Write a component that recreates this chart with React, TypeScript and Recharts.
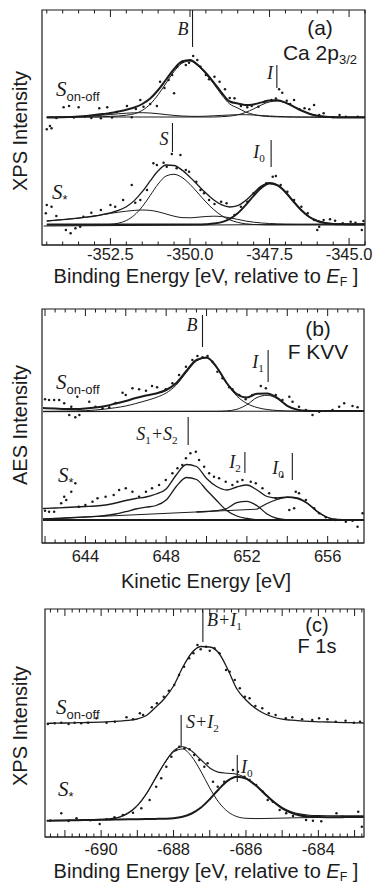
import React from 'react';
import { ComposedChart, Line, Scatter, XAxis, YAxis, ReferenceLine, ReferenceArea } from 'recharts';

// ---------------- Panel (a): Ca 2p3/2 XPS ----------------
const aE = [-354.5,-354.25,-354,-353.75,-353.5,-353.25,-353,-352.75,-352.5,-352.25,-352,-351.75,-351.5,-351.25,-351,-350.75,-350.5,-350.25,-350,-349.75,-349.5,-349.25,-349,-348.75,-348.5,-348.25,-348,-347.75,-347.5,-347.25,-347,-346.75,-346.5,-346.25,-346,-345.75,-345.5,-345.25,-345,-344.75,-344.5];
const aTopTotal = [127.5,127.5,127.8,128.1,128.5,129.1,129.9,130.9,132,133.5,135.2,137.5,141,146.5,155,165.5,176,183.5,185,180,172,162.5,152,143.5,141.5,139.9,140.6,142.6,144.5,144.7,142.4,138.5,134.5,131.3,129.2,128.2,127.7,127.5,127.5,127.5,127.5];
const aTopB = [128,128,128,128,128,128,128.1,128.3,128.6,129,129.8,131.2,134.6,140.9,150.3,162,173.5,181.8,184,179.1,171,161,150,141,137,133,130.5,129,128.4,128.1,128,128,128,128,128,128,128,128,128,128,128];
const aTopI = [128,128,128,128,128,128,128,128,128,128,128,128,128,128,128,128,128,128,128,128,128,128,128.3,128.9,130.2,132.6,136.1,140.1,143.1,144,142.1,138.5,134.6,131.5,129.5,128.6,128.2,128,128,128,128];
const aTopBase = [127.5,127.5,127.8,128,128.3,128.7,129.2,129.8,130.5,131.2,131.8,132.2,132.3,132,131.3,130.4,129.6,129,128.7,128.6,128.8,129.2,129.6,130,130.3,130.3,130,129.5,129,128.6,128.3,128,127.9,127.8,127.7,127.6,127.5,127.5,127.5,127.5,127.5];
const aBotTotal = [24,24.7,25.4,26.1,26.9,27.9,29,30.5,32.2,34.6,38.3,44.4,53.3,64.1,74.2,80,79.5,74.9,67.9,59.8,51.9,45,40.1,38,39.4,44.5,52,59.1,62.4,60.3,53.3,43.9,35,28.3,24.3,22.2,21.3,21,20.8,20.8,20.8];
const aBotS = [20,20,20,20,20,20,20,20.2,20.6,21.8,24.5,29.8,38.3,49.5,61,69,70.7,67.5,60.7,52,43.1,35.3,29.3,25.2,22.6,21.2,20.5,20.2,20,20,20,20,20,20,20,20,20,20,20,20,20];
const aBotI0 = [20.5,20.5,20.5,20.5,20.5,20.5,20.5,20.5,20.5,20.5,20.5,20.5,20.5,20.5,20.5,20.5,20.5,20.5,20.5,20.5,20.8,21.4,22.9,26.1,31.7,39.8,49.2,57.4,61.4,59.6,52.8,43.5,34.7,28,24,21.9,21,20.7,20.5,20.5,20.5];
const aBotBump = [24,24.7,25.4,26.1,26.9,27.9,29,30.3,31.6,32.8,33.8,34.6,35,34.6,33.2,31,28.8,27.4,27.2,27.8,28.5,28.8,28.4,27.2,25.6,24,22.8,22,21.5,21.2,21,20.9,20.8,20.8,20.8,20.8,20.8,20.8,20.8,20.8,20.8];
const aBotFlat = [[-354.6,19],[-344.5,21]];
const aTopDots = [[-354.5,115.7],[-354.4,119],[-354.35,116.7],[-354.2,127],[-353.97,137.7],[-353.8,139],[-353.65,127.5],[-353.5,137.7],[-353.3,128.5],[-353.1,127],[-352.85,136.7],[-352.8,126.7],[-352.6,137.7],[-352.45,127.5],[-352.3,133],[-351.98,139],[-351.83,127.7],[-351.7,136],[-351.56,145],[-351.46,138.3],[-351.25,141],[-351.04,139],[-350.94,163.3],[-350.8,157],[-350.67,165],[-350.56,170],[-350.5,151.7],[-350.4,178.3],[-350.24,183.3],[-350.13,180],[-350.03,182.3],[-349.9,189],[-349.77,185],[-349.67,178.3],[-349.5,170],[-349.4,165.7],[-349.23,168.3],[-349.07,163.3],[-348.9,155.7],[-348.75,147],[-348.6,146.7],[-348.4,139],[-348.2,137.7],[-348.06,139],[-347.85,138.3],[-347.65,143.3],[-347.44,145],[-347.3,146.5],[-347.2,155.7],[-347.1,152.3],[-346.96,144.3],[-346.85,141],[-346.73,145],[-346.56,135.7],[-346.4,136.7],[-346.25,135.7],[-346.1,140],[-345.94,130],[-345.8,131.7],[-345.5,127.7],[-345.3,130],[-345.1,128.3],[-344.73,128.3]];
const aBotDots = [[-354.53,31.7],[-354.5,40],[-354.35,38.3],[-354.2,29],[-353.9,15],[-353.75,11.7],[-353.6,16.7],[-353.45,18.3],[-353.35,28.3],[-353.1,32.3],[-352.8,35],[-352.5,40],[-352.35,38.3],[-352.1,45],[-351.83,60],[-351.72,42.3],[-351.56,45],[-351.35,55],[-351.15,81.7],[-351.04,80],[-350.83,82.3],[-350.73,78.3],[-350.57,91],[-350.42,76.7],[-350.3,90],[-350.13,75],[-350.03,73.3],[-349.8,63.3],[-349.67,55],[-349.56,51.7],[-349.4,45],[-349.23,41],[-349.02,43.3],[-348.85,41.7],[-348.6,30],[-348.4,38.3],[-348.2,43.3],[-348,51.7],[-347.8,56.7],[-347.6,61.7],[-347.4,68.3],[-347.3,69],[-347.15,60],[-346.94,53.3],[-346.73,45],[-346.5,38.3],[-346.3,31.7],[-346.1,25],[-346,15],[-345.94,18.3],[-345.8,25],[-345.6,25.7],[-345.44,24.3],[-345.2,21.7],[-344.95,23.3],[-344.8,22.3],[-344.6,15],[-344.55,24]];
const aTicks = [-354.5,-354,-353.5,-353,-352.5,-352,-351.5,-351,-350.5,-350,-349.5,-349,-348.5,-348,-347.5,-347,-346.5,-346,-345.5,-345,-344.5];
const aLabelTicks = [-352.5,-350,-347.5,-345];
// marker lines: [energy, yFrom, yTo]
const aMarkers = [[-349.92,198,235],[-347.27,157,180],[-350.55,93,122],[-347.45,78,105]];

// ---------------- Panel (b): F KVV AES ----------------
const bE = [641.9,642.5,643,643.5,644,644.5,645,645.5,646,646.5,647,647.5,648,648.5,649,649.5,650,650.5,651,651.5,652,652.5,653,653.5,654,654.5,655,655.5,656,656.5,657,657.5,657.8];
const bTopTotal = [135,134.5,134,134,134.5,135.5,137,139.5,142,145,147.5,149.5,153,160,172,183,185.5,176,160,149,145.4,149.3,149.5,145.2,137.2,133.4,132.2,132,132,132,132,132,132];
const bTopB = [131.5,131.6,131.8,132,132.3,133,134,135.3,137,139.5,142.3,145.5,150,158,170.5,182,185,175,159.5,147,139.5,135.5,133.5,132.5,132,131.8,131.7,131.7,131.7,131.7,131.7,131.7,131.7];
const bTopI1 = [131.7,131.7,131.7,131.7,131.7,131.7,131.7,131.7,131.7,131.7,131.7,131.7,131.7,131.7,131.7,131.7,131.7,131.7,132.1,133.7,138.3,145.5,147.7,144.4,136.9,133.1,131.9,131.7,131.7,131.7,131.7,131.7,131.7];
const bTopBase = [[641.9,131.3],[657.8,132]];
const bBotTotal = [34.5,35,35.5,36,36.5,37,38,40,42.5,44.5,46,49,54,68,78.5,76.5,64.5,56.5,53,56,58,53,46.5,45,46,45,39.7,31.5,25.5,23.5,23,23,23];
const bBotS = [24,24.5,25,25.5,26,26.6,27.5,29,31.3,34,35.8,37.5,43,56.5,65.5,63.5,53,42.5,32.5,27,24.5,23.3,23,23,23,23,23,23,23,23,23,23,23];
const bBotI2 = [null,null,null,null,null,null,null,null,null,null,null,null,null,null,null,31,31.5,32.3,34.5,40.3,41.6,37.3,29,24.5,23.2,23,null,null,null,null,null,null,null];
const bBotI0 = [null,null,null,null,null,null,null,null,null,null,null,null,null,null,null,null,null,null,null,null,null,33.8,39.5,43.5,45.6,44.3,39.5,31,25.5,23.3,23,23,23];
const bBotSlope = [[641.9,24],[652.5,33.8]];
const bBotFlat = [[641.9,23],[657.8,23]];
const bTopDots = [[642,143.7],[642.2,143],[642.45,143],[642.7,143],[642.95,139.7],[643.3,136.3],[643.2,128],[643.5,125.7],[643.7,128],[643.6,146.3],[644.19,141.3],[644.5,136.3],[644.85,134.7],[645.18,135.7],[645.5,140],[645.84,150.3],[646,148],[646.33,154.7],[646.66,153.7],[647,152.3],[647.3,157],[647.55,155.7],[647.98,153.7],[648.31,159.7],[648.64,168],[648.98,176.3],[649.3,183],[649.55,187],[649.8,185.7],[650.05,187],[650.29,181.3],[650.54,171.3],[650.79,164.7],[651.12,155.7],[651.28,153.7],[651.61,148],[651.94,143.7],[652.27,148],[652.69,157],[652.94,154.7],[653.43,148],[653.76,143],[654.1,146.3],[654.26,141.3],[654.58,136.3],[654.92,133],[655.25,128],[655.58,131.3],[656.24,133],[656.57,136.3],[656.82,139.7],[657.23,137],[657.48,135.7]];
const bBotDots = [[642,32.3],[642.2,31.3],[642.45,31.3],[642.8,39.7],[642.95,46.3],[643.05,43],[643.3,51.3],[643.5,59.7],[643.67,36.3],[644,38],[644.35,41.3],[644.6,44.7],[645,46.3],[645.4,48],[645.67,53],[646,54.7],[646.33,51.3],[646.66,46.3],[647,51.3],[647.3,54.7],[647.65,58],[647.98,63],[648.31,69.7],[648.56,74.7],[648.8,78],[648.98,84.7],[649.2,89.7],[649.47,91.3],[649.63,83],[649.88,76.3],[650.13,69.7],[650.37,66.3],[650.62,64.7],[650.95,61.3],[651.28,58],[651.53,61.3],[651.78,63],[652.19,61.3],[652.44,59.7],[652.77,54.7],[653.1,49.7],[653.43,44.7],[653.76,66.3],[654.1,33],[654.34,34.7],[654.42,51.3],[654.58,49.7],[654.92,43],[655.33,34.7],[655.58,29.7],[655.91,25.7],[656.4,23],[656.9,21.3],[657.23,22.3],[657.48,16.3],[657.73,29.7]];
const bTicks = [642,642.5,643,643.5,644,644.5,645,645.5,646,646.5,647,647.5,648,648.5,649,649.5,650,650.5,651,651.5,652,652.5,653,653.5,654,654.5,655,655.5,656,656.5,657,657.5];
const bMajorTicks = [642,644,646,648,650,652,654,656];
const bLabelTicks = [644,648,652,656];
const bMarkers = [[649.8,196,228],[653.05,161,193],[649.09,98,126],[651.9,70,91],[654.25,63,90]];

// ---------------- Panel (c): F 1s XPS ----------------
const cE = [-691.5,-691.25,-691,-690.75,-690.5,-690.25,-690,-689.75,-689.5,-689.25,-689,-688.75,-688.5,-688.25,-688,-687.75,-687.5,-687.25,-687,-686.75,-686.5,-686.25,-686,-685.75,-685.5,-685.25,-685,-684.75,-684.5,-684.25,-684,-683.75,-683.5,-683.25,-683,-682.75];
const cTop = [113.7,113.8,114,114.2,114.4,114.6,114.9,115.3,115.9,116.7,118,121.5,129.5,138.5,151,169.5,184,190.5,190,184,167.5,148,137,129,123.5,120,117.8,116.8,116.1,115.6,115.2,115,114.7,114.4,114.2,114];
const cBotTotal = [16.3,16.4,16.6,16.8,17,17.3,17.6,18.3,20.1,24.2,31.6,43.5,59,74,86,90.3,86,77.5,69,64.6,63.7,62.7,59.1,52.6,44.3,36.1,29.6,25.3,22.9,21.8,21.4,21.2,21.1,21.1,21.2,21.3];
const cBotS = [16.3,16.4,16.5,16.6,16.7,16.9,17.2,17.9,19.6,23.6,31,42.8,58.2,73.5,85,88,80.5,66,49,34.7,25.3,20.4,18.7,18.4,18.5,18.7,18.9,19.1,19.3,19.4,19.5,19.6,19.7,19.8,19.9,20];
const cBotI0 = [16.3,16.45,16.6,16.75,16.9,17.05,17.2,17.35,17.5,17.65,17.8,17.95,18.1,18.3,18.8,20.3,23.5,29.2,37.8,47.8,56.4,60.3,58.4,52.2,43.8,35.4,28.7,24.2,21.6,20.4,19.9,19.8,19.8,19.9,20,20];
const cTopDots = [[-691.47,113],[-691.28,113.7],[-691.1,114.3],[-690.9,113],[-690.73,114.3],[-690.55,113.7],[-690.36,114.3],[-690.13,118.7],[-689.85,114.3],[-689.62,115.3],[-689.3,119.7],[-689.12,117.7],[-688.93,123.7],[-688.84,122],[-688.6,129.7],[-688.46,133.7],[-688.27,140.3],[-688.13,146.3],[-687.98,152],[-687.85,162],[-687.71,170.3],[-687.57,178.7],[-687.45,183.7],[-687.34,192],[-687.25,187.7],[-687.1,190.3],[-687,186.3],[-686.87,188.7],[-686.73,183.7],[-686.55,167],[-686.45,165.3],[-686.31,157],[-686.17,148.7],[-686.03,140.3],[-685.9,138.7],[-685.74,131],[-685.55,128.7],[-685.37,123.7],[-685.18,122],[-684.9,118.7],[-684.72,119.7],[-684.45,117.7],[-684.17,117],[-683.98,118.7],[-683.75,117.7],[-683.52,115.3],[-683.25,116.3],[-683.02,114.3],[-682.85,115.3]];
const cBotDots = [[-691.4,16.5],[-691.1,23.7],[-690.9,16],[-690.68,18.7],[-690.3,16.8],[-690.04,13],[-689.85,17.8],[-689.63,19.7],[-689.4,22],[-689.12,24.3],[-688.89,28.7],[-688.66,37],[-688.48,50.3],[-688.34,58.7],[-688.2,70.3],[-688.06,80.3],[-687.93,87],[-687.84,90.3],[-687.7,88.7],[-687.56,87.7],[-687.43,82],[-687.29,77],[-687.15,70.3],[-687.06,73.7],[-686.91,55.3],[-686.78,50.3],[-686.6,55.3],[-686.36,67],[-686.22,65.3],[-686.04,60.3],[-685.9,57],[-685.72,52],[-685.53,45.3],[-685.4,37],[-685.26,35.3],[-685.07,27],[-684.89,23.7],[-684.7,21],[-684.52,22],[-684.34,17],[-684.15,16.3],[-683.92,15.7],[-683.5,23.7],[-683.33,20.3],[-682.9,25.3],[-682.8,10.3]];
const cTicks = [-691.4,-691.2,-691,-690.8,-690.6,-690.4,-690.2,-690,-689.8,-689.6,-689.4,-689.2,-689,-688.8,-688.6,-688.4,-688.2,-688,-687.8,-687.6,-687.4,-687.2,-687,-686.8,-686.6,-686.4,-686.2,-686,-685.8,-685.6,-685.4,-685.2,-685,-684.8,-684.6,-684.4,-684.2,-684,-683.8,-683.6,-683.4,-683.2,-683,-682.8];
const cMajorTicks = [-691,-690,-689,-688,-687,-686,-685,-684,-683];
const cLabelTicks = [-690,-688,-686,-684];
const cMarkers = [[-687.19,195,227],[-687.79,90,122],[-686.24,55,82]];

// ---------------- rendering ----------------
const INK = '#1b1b1b';
const SANS = '"Liberation Sans", Arial, Helvetica, sans-serif';
const SERIF = '"Liberation Serif", "Times New Roman", serif';
const AXIS_H = 5;

type Row = { E: number; v: number | null };
const rows = (E: number[], v: (number | null)[]): Row[] => E.map((e, i) => ({ E: e, v: v[i] }));
const pairs = (p: number[][]): Row[] => p.map(([e, v]) => ({ E: e, v }));
const has = (list: number[], v: number) => list.some((m) => Math.abs(m - v) < 1e-6);

function makeTick(o: { major: number[]; labels: number[]; plotH: number; majorLen: number; minorLen: number; dy: number; fmt: (v: number) => string }) {
  return function Tick(props: any) {
    const { x, y, payload } = props;
    const val = payload.value as number;
    const len = has(o.major, val) ? o.majorLen : o.minorLen;
    return (
      <g>
        <line x1={x} x2={x} y1={y} y2={y - len} stroke={INK} strokeWidth={1} />
        <line x1={x} x2={x} y1={y - o.plotH} y2={y - o.plotH + len} stroke={INK} strokeWidth={1} />
        {has(o.labels, val) && (
          <text x={x} y={y + o.dy} textAnchor="middle" fontFamily={SANS} fontSize={16.5} fill={INK}>
            {o.fmt(val)}
          </text>
        )}
      </g>
    );
  };
}

const renderDot = (p: any) => <circle cx={p.cx} cy={p.cy} r={1.25} fill={INK} />;

type LineSpec = { data: Row[]; w: number };
type PanelProps = {
  top: number; height: number; margin: { top: number; right: number; bottom: number; left: number };
  domain: [number, number]; yMax: number; ticks: number[]; major: number[]; labels: number[];
  fmt: (v: number) => string; lines: LineSpec[]; dots: Row[][]; markers: number[][]; dy: number;
};

function Panel(p: PanelProps) {
  const plotH = p.height - p.margin.top - p.margin.bottom - AXIS_H;
  const tick = makeTick({ major: p.major, labels: p.labels, plotH, majorLen: 7, minorLen: 3.5, dy: p.dy, fmt: p.fmt });
  return (
    <div style={{ position: 'absolute', left: 0, top: p.top }}>
      <ComposedChart width={375} height={p.height} margin={p.margin}>
        <XAxis dataKey="E" type="number" domain={p.domain} allowDataOverflow ticks={p.ticks} interval={0}
          tick={tick} tickLine={false} tickSize={0} tickMargin={0} height={AXIS_H}
          axisLine={{ stroke: INK, strokeWidth: 1.2 }} />
        <YAxis type="number" domain={[0, p.yMax]} allowDataOverflow hide />
        <ReferenceArea x1={p.domain[0]} x2={p.domain[1]} y1={0} y2={p.yMax} fill="none" fillOpacity={0} stroke={INK} strokeWidth={1.2} ifOverflow="visible" />
        {p.lines.map((l, i) => (
          <Line key={'l' + i} data={l.data} dataKey="v" type="monotone" stroke={INK} strokeWidth={l.w}
            dot={false} activeDot={false} isAnimationActive={false} connectNulls={false} />
        ))}
        {p.dots.map((d, i) => (
          <Scatter key={'s' + i} data={d} dataKey="v" shape={renderDot} isAnimationActive={false} />
        ))}
        {p.markers.map((m, i) => (
          <ReferenceLine key={'m' + i} segment={[{ x: m[0], y: m[1] }, { x: m[0], y: m[2] }]} stroke={INK} strokeWidth={1.1} ifOverflow="visible" />
        ))}
      </ComposedChart>
    </div>
  );
}

const Sub = ({ children, f = SANS }: any) => (
  <span style={{ fontSize: '0.62em', verticalAlign: '-0.32em', fontStyle: 'normal', fontFamily: f, lineHeight: 0 }}>{children}</span>
);

const Txt = ({ x, y, children, size = 18, family = SANS, italic = false, center = false, rotate = false, lh = 1 }: any) => (
  <div style={{
    position: 'absolute', left: x, top: y, lineHeight: lh, whiteSpace: 'nowrap', color: INK,
    fontSize: size, fontFamily: family, fontStyle: italic ? 'italic' : 'normal',
    transform: rotate ? 'translate(-50%, -50%) rotate(-90deg)' : center ? 'translate(-50%, -50%)' : 'translate(0, -50%)',
  }}>{children}</div>
);

// stacked panel title: "(x)" above the spectrum name, as one centred block
const PanelTitle = ({ cx, cy, gap, size = 21, tag, children }: any) => (
  <div style={{
    position: 'absolute', left: cx, top: cy, transform: 'translate(-50%, -50%)', textAlign: 'center',
    fontFamily: SANS, fontSize: size, lineHeight: `${gap}px`, whiteSpace: 'nowrap', color: INK,
  }}>{tag}<br />{children}</div>
);

const ScriptS = ({ x, y, sub }: { x: number; y: number; sub: string }) => (
  <Txt x={x} y={y} size={21} family={SERIF} italic>
    S<span style={{ fontFamily: SANS, fontStyle: 'normal', fontSize: 13, verticalAlign: '-0.35em' }}>{sub}</span>
  </Txt>
);

const fmtA = (v: number) => v.toFixed(1);
const fmtInt = (v: number) => String(v);

export default function App() {
  return (
    <div style={{ position: 'relative', width: 375, height: 884, background: '#fff', overflow: 'hidden' }}>
      <style>{'html,body{margin:0;padding:0;background:#fff}'}</style>

      <Panel top={0} height={270} margin={{ top: 10, right: 10, bottom: 20, left: 42 }}
        domain={[-354.65, -344.5]} yMax={235} ticks={aTicks} major={aLabelTicks} labels={aLabelTicks} fmt={fmtA} dy={15}
        lines={[
          { data: rows(aE, aTopBase), w: 1 },
          { data: rows(aE, aTopB), w: 1 },
          { data: rows(aE, aTopI), w: 1 },
          { data: rows(aE, aTopTotal), w: 2 },
          { data: pairs(aBotFlat), w: 1 },
          { data: rows(aE, aBotBump), w: 1 },
          { data: rows(aE, aBotS), w: 1 },
          { data: rows(aE, aBotI0), w: 2 },
          { data: rows(aE, aBotTotal), w: 1.3 },
        ]}
        dots={[pairs(aTopDots), pairs(aBotDots)]} markers={aMarkers} />

      <Panel top={290} height={280} margin={{ top: 19, right: 11, bottom: 22, left: 42 }}
        domain={[641.85, 657.8]} yMax={234} ticks={bTicks} major={bMajorTicks} labels={bLabelTicks} fmt={fmtInt} dy={19}
        lines={[
          { data: pairs(bTopBase), w: 1 },
          { data: rows(bE, bTopB), w: 1 },
          { data: rows(bE, bTopI1), w: 1 },
          { data: rows(bE, bTopTotal), w: 2 },
          { data: pairs(bBotFlat), w: 2 },
          { data: pairs(bBotSlope), w: 1 },
          { data: rows(bE, bBotS), w: 1.3 },
          { data: rows(bE, bBotI2), w: 1.3 },
          { data: rows(bE, bBotI0), w: 1.3 },
          { data: rows(bE, bBotTotal), w: 1.3 },
        ]}
        dots={[pairs(bTopDots), pairs(bBotDots)]} markers={bMarkers} />

      <Panel top={590} height={278} margin={{ top: 19, right: 11, bottom: 26, left: 45 }}
        domain={[-691.55, -682.74]} yMax={228} ticks={cTicks} major={cMajorTicks} labels={cLabelTicks} fmt={fmtInt} dy={18}
        lines={[
          { data: rows(cE, cTop), w: 1.3 },
          { data: rows(cE, cBotS), w: 1 },
          { data: rows(cE, cBotI0), w: 2 },
          { data: rows(cE, cBotTotal), w: 1.1 },
        ]}
        dots={[pairs(cTopDots), pairs(cBotDots)]} markers={cMarkers} />

      {/* Panel (a) texts */}
      <PanelTitle cx={320} cy={39.5} gap={25} tag="(a)">Ca 2p<Sub>3/2</Sub></PanelTitle>
      <Txt x={183} y={29} size={18} family={SERIF} italic center>B</Txt>
      <Txt x={270} y={73} size={18} family={SERIF} italic center>I</Txt>
      <Txt x={164} y={139} size={18} family={SERIF} italic center>S</Txt>
      <Txt x={259} y={152} size={18} family={SERIF} italic center>I<Sub f={SERIF}>0</Sub></Txt>
      <ScriptS x={56} y={91} sub="on-off" />
      <ScriptS x={52} y={194} sub="*" />
      <Txt x={20} y={131} size={20} rotate>XPS Intensity</Txt>
      <Txt x={206} y={275.5} size={20} center lh={0.95}>Binding Energy [eV, relative to <i>E</i><Sub>F</Sub> ]</Txt>

      {/* Panel (b) texts */}
      <PanelTitle cx={318} cy={339.5} gap={23} tag="(b)">F KVV</PanelTitle>
      <Txt x={192} y={325} size={18} family={SERIF} italic center>B</Txt>
      <Txt x={258} y={362} size={18} family={SERIF} italic center>I<Sub f={SERIF}>1</Sub></Txt>
      <Txt x={157} y={434} size={18} family={SERIF} italic center>S<Sub f={SERIF}>1</Sub>+S<Sub f={SERIF}>2</Sub></Txt>
      <Txt x={235} y={462} size={18} family={SERIF} italic center>I<Sub f={SERIF}>2</Sub></Txt>
      <Txt x={278} y={468} size={18} family={SERIF} italic center>I<Sub f={SERIF}>0</Sub></Txt>
      <ScriptS x={56} y={384} sub="on-off" />
      <ScriptS x={58} y={477} sub="*" />
      <Txt x={20} y={425} size={20} rotate>AES Intensity</Txt>
      <Txt x={206} y={581} size={20} center lh={0.95}>Kinetic Energy [eV]</Txt>

      {/* Panel (c) texts */}
      <PanelTitle cx={317} cy={635} gap={20.5} size={20} tag="(c)">F 1s</PanelTitle>
      <Txt x={207} y={620} size={18} family={SERIF} italic>B+I<Sub f={SERIF}>1</Sub></Txt>
      <Txt x={186} y={722} size={18} family={SERIF} italic>S+I<Sub f={SERIF}>2</Sub></Txt>
      <Txt x={241} y={767} size={18} family={SERIF} italic>I<Sub f={SERIF}>0</Sub></Txt>
      <ScriptS x={56} y={709} sub="on-off" />
      <ScriptS x={58} y={791} sub="*" />
      <Txt x={20} y={726} size={20} rotate>XPS Intensity</Txt>
      <Txt x={206} y={871} size={20} center lh={0.95}>Binding Energy [eV, relative to <i>E</i><Sub>F</Sub> ]</Txt>
    </div>
  );
}
